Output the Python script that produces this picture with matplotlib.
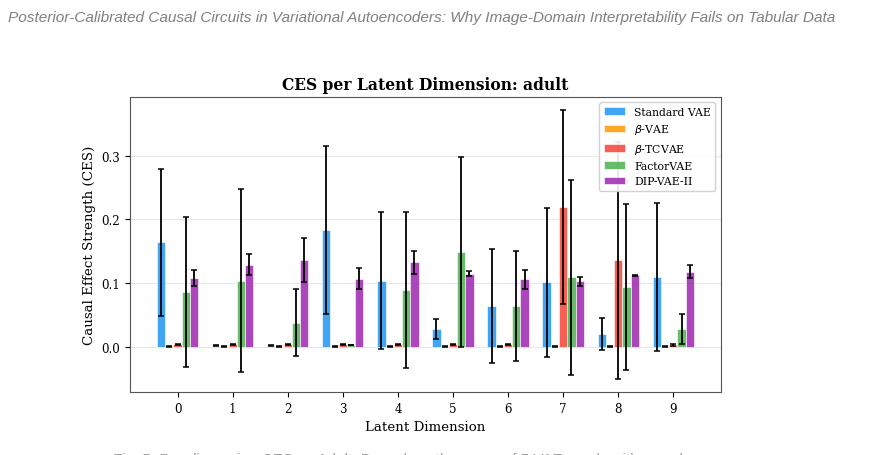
import matplotlib
matplotlib.use('Agg')
import matplotlib.pyplot as plt
import numpy as np

# Data
dims = list(range(10))
models = ['Standard VAE', r'$\beta$-VAE', r'$\beta$-TCVAE', 'FactorVAE', 'DIP-VAE-II']
colors = ['#2196F3', '#FF9800', '#F44336', '#4CAF50', '#9C27B0']

std_vae = [0.164, 0.002, 0.002, 0.183, 0.104, 0.028, 0.064, 0.101, 0.020, 0.109]
std_vae_err = [0.115, 0.0005, 0.0005, 0.132, 0.108, 0.016, 0.089, 0.117, 0.025, 0.116]
beta_vae = [0.0005] * 10
beta_vae_err = [0.0005] * 10
beta_tc = [0.004, 0.004, 0.004, 0.004, 0.004, 0.004, 0.004, 0.219, 0.136, 0.003]
beta_tc_err = [0.001, 0.001, 0.001, 0.001, 0.001, 0.001, 0.001, 0.152, 0.186, 0.001]
factor = [0.086, 0.104, 0.038, 0.003, 0.089, 0.149, 0.064, 0.109, 0.094, 0.028]
factor_err = [0.118, 0.144, 0.052, 0.0005, 0.123, 0.149, 0.087, 0.153, 0.130, 0.023]
dip = [0.108, 0.129, 0.136, 0.107, 0.133, 0.115, 0.106, 0.103, 0.112, 0.118]
dip_err = [0.013, 0.016, 0.035, 0.017, 0.018, 0.004, 0.015, 0.007, 0.001, 0.010]

means = [std_vae, beta_vae, beta_tc, factor, dip]
errs = [std_vae_err, beta_vae_err, beta_tc_err, factor_err, dip_err]

plt.rcParams['font.family'] = 'DejaVu Serif'

fig = plt.figure(figsize=(8.79, 4.56), dpi=100)
ax = fig.add_axes([0.148, 0.138, 0.672, 0.647])

width = 0.15
x = np.arange(len(dims))
for i, (m, e) in enumerate(zip(means, errs)):
    ax.bar(x + (i - 2) * width, m, width, yerr=e, capsize=2.5, color=colors[i],
           alpha=0.85, edgecolor='white', linewidth=0.5, label=models[i],
           error_kw=dict(ecolor='black', elinewidth=1.3, capthick=1.1))

ax.set_xticks(x)
ax.set_xticklabels([str(d) for d in dims])
ax.tick_params(labelsize=8.6)
ax.set_xlabel('Latent Dimension', fontsize=9.6)
ax.set_ylabel('Causal Effect Strength (CES)', fontsize=9.6)
ax.set_title('CES per Latent Dimension: adult', fontsize=11.2, fontweight='bold')
ax.yaxis.grid(True, alpha=0.3)
ax.set_axisbelow(True)
for s in ax.spines.values():
    s.set_color('#555555')
ax.legend(loc='upper right', fontsize=7.8, framealpha=0.9)

# page header and cut-off caption
fig.text(0.009, 0.975, 'Posterior-Calibrated Causal Circuits in Variational Autoencoders: '
         'Why Image-Domain Interpretability Fails on Tabular Data',
         fontsize=11.1, style='italic', color='#808080', family='Liberation Sans',
         ha='left', va='top')
fig.text(0.129, 0.006, 'Fig. 5: Per-dimension CES on Adult. Bars show the mean of 5 VAE seeds with error bars.',
         fontsize=11, color='#a0a0a0', family='Liberation Sans', ha='left', va='top')

fig.savefig('out.png', dpi=100)
